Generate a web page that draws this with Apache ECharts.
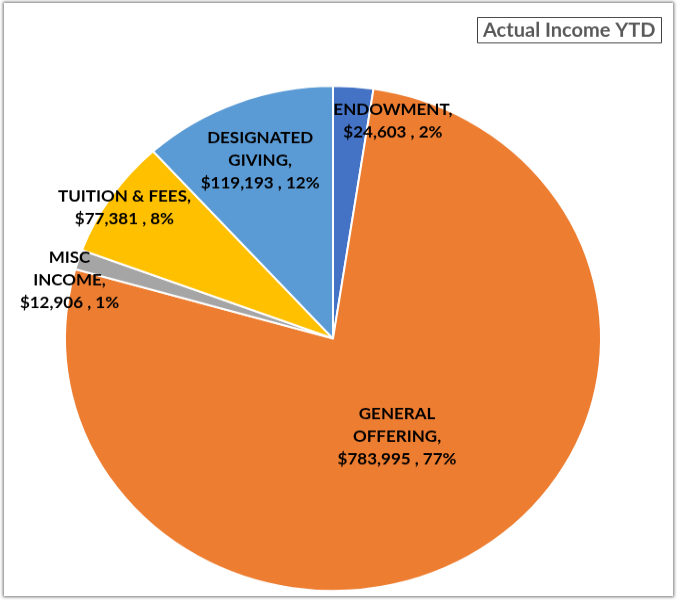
<!DOCTYPE html>
<html>
<head>
<meta charset="utf-8">
<script src="https://cdn.jsdelivr.net/npm/echarts@6/dist/echarts.min.js"></script>
<style>
  html, body { margin: 0; padding: 0; background: #ffffff; width: 678px; height: 602px; overflow: hidden; }
  #frame { position: absolute; left: 4px; top: 3px; width: 669px; height: 593px; box-shadow: 0 0 3px 1px rgba(0,0,0,0.55); background: #fff; }
  #chart { position: absolute; left: 0; top: 0; width: 678px; height: 639px; transform: scaleY(0.942); transform-origin: 0 0; }
</style>
</head>
<body>
<div id="frame"></div>
<div id="chart"></div>
<script>
// Data
const categories = ['ENDOWMENT', 'GENERAL OFFERING', 'MISC INCOME', 'TUITION & FEES', 'DESIGNATED GIVING'];
const displayNames = ['ENDOWMENT', 'GENERAL\nOFFERING', 'MISC\nINCOME', 'TUITION & FEES', 'DESIGNATED\nGIVING'];
const values = [24603, 783995, 12906, 77381, 119193];
const colors = ['#4472C4', '#ED7D31', '#A5A5A5', '#FFC000', '#5B9BD5'];
const titleText = 'Actual Income YTD';

// Layout (label placement along each slice's mid angle)
const CX = 333, CY = 359.3, R = 268;
const labelRadius = [0.89, 0.455, 1.01, 0.935, 0.756];
const labelAngleShift = [10.2, 1, -5, -0.5, 0];

const total = values.reduce((a, b) => a + b, 0);
const midAngles = [];
let cum = 0;
values.forEach(v => { midAngles.push(360 * (cum + v / 2) / total); cum += v; });

const fmtMoney = v => '$' + v.toLocaleString('en-US');

const chart = echarts.init(document.getElementById('chart'), null, { renderer: 'canvas' });
chart.setOption({
  animation: false,
  backgroundColor: 'transparent',
  title: {
    text: titleText,
    left: 477, top: 18,
    borderColor: '#404040', borderWidth: 1,
    padding: [3, 6, 2, 6],
    textStyle: { color: '#595959', fontSize: 20, lineHeight: 23, fontWeight: 'bold', fontFamily: 'Lato' }
  },
  series: [{
    type: 'pie',
    center: [CX, CY],
    radius: [0, R],
    startAngle: 90,
    clockwise: true,
    avoidLabelOverlap: false,
    data: categories.map((c, i) => ({ name: c, value: values[i], itemStyle: { color: colors[i] } })),
    itemStyle: { borderColor: '#ffffff', borderWidth: 2 },
    label: {
      show: true,
      position: 'inside',
      color: '#000',
      fontSize: 17,
      fontWeight: 'bold',
      fontFamily: 'Lato',
      lineHeight: 24,
      align: 'center',
      formatter: p => displayNames[p.dataIndex] + ',\n' + fmtMoney(p.value) + ' , ' + Math.round(p.percent) + '%'
    },
    labelLine: { show: false },
    labelLayout: p => {
      const i = p.dataIndex;
      const a = (midAngles[i] + labelAngleShift[i]) * Math.PI / 180;
      const r = labelRadius[i] * R;
      return { x: CX + r * Math.sin(a), y: CY - r * Math.cos(a), align: 'center', verticalAlign: 'middle' };
    }
  }]
});
</script>
</body>
</html>
